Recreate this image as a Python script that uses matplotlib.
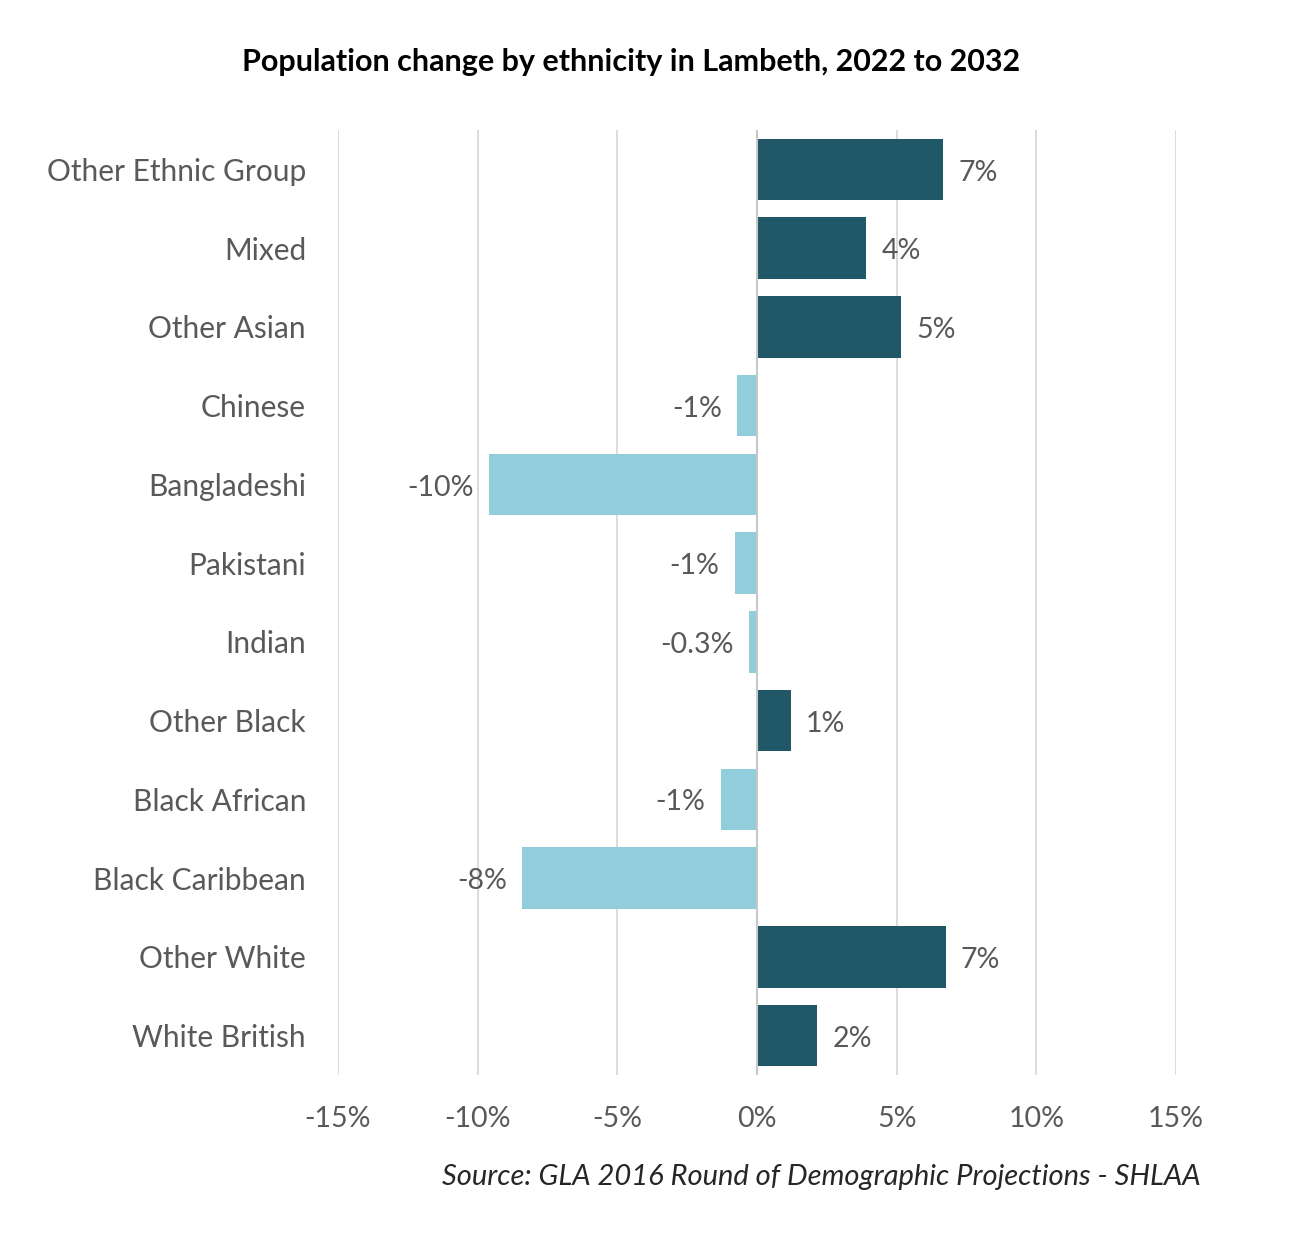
import matplotlib.pyplot as plt
from matplotlib.ticker import FuncFormatter

plt.rcParams["font.family"] = ["Lato", "DejaVu Sans"]

# Percentage change in population, 2022 to 2032 (top to bottom)
GROUPS = [
    "Other Ethnic Group", "Mixed", "Other Asian", "Chinese", "Bangladeshi",
    "Pakistani", "Indian", "Other Black", "Black African", "Black Caribbean",
    "Other White", "White British",
]
CHANGE_PCT = [6.65, 3.9, 5.15, -0.7, -9.6, -0.8, -0.3, 1.2, -1.3, -8.4, 6.75, 2.15]
X_TICKS = [-15, -10, -5, 0, 5, 10, 15]

DARK = "#215868"
LIGHT = "#92CDDC"
TEXT_GREY = "#595959"


def fmt_label(v: float) -> str:
    # small changes keep one decimal, the rest are whole percentages
    if abs(v) < 0.5:
        return f"{v:.1f}%"
    return f"{round(v):.0f}%"


fig = plt.figure(figsize=(12.98, 12.43), dpi=100)
ax = fig.add_axes([0.2604, 0.1352, 0.6456, 0.7602])

ypos = list(range(len(GROUPS)))
colors = [DARK if v >= 0 else LIGHT for v in CHANGE_PCT]
ax.barh(ypos, CHANGE_PCT, height=0.78, color=colors, zorder=3)

for y, v in zip(ypos, CHANGE_PCT):
    pad = 0.55
    if v >= 0:
        ax.text(v + pad, y + 0.04, fmt_label(v), ha="left", va="center",
                fontsize=20.5, color=TEXT_GREY)
    else:
        ax.text(v - pad, y + 0.04, fmt_label(v), ha="right", va="center",
                fontsize=20.5, color=TEXT_GREY)

ax.set_xlim(-15, 15)
ax.set_ylim(len(GROUPS) - 0.5, -0.5)
ax.set_xticks(X_TICKS)
ax.xaxis.set_major_formatter(FuncFormatter(lambda x, _: f"{x:.0f}%"))
ax.set_yticks(ypos)
ax.set_yticklabels(GROUPS)
ax.tick_params(axis="both", length=0, labelcolor=TEXT_GREY)
ax.tick_params(axis="x", pad=22, labelsize=20.5)
ax.tick_params(axis="y", pad=23, labelsize=21.5)

ax.grid(axis="x", color="#d9d9d9", linewidth=1.3, zorder=0)
ax.axvline(0, color="#c8c8c8", linewidth=1.5, zorder=4)
for side in ("top", "right", "bottom", "left"):
    ax.spines[side].set_visible(False)

fig.text(0.4865, 0.95, "Population change by ethnicity in Lambeth, 2022 to 2032",
         ha="center", va="center", fontsize=22, fontweight="bold", color="black")
fig.text(0.925, 0.053, "Source: GLA 2016 Round of Demographic Projections - SHLAA",
         ha="right", va="center", fontsize=21, style="italic", color="#262626")

fig.savefig("out.png", dpi=100, facecolor="white")
